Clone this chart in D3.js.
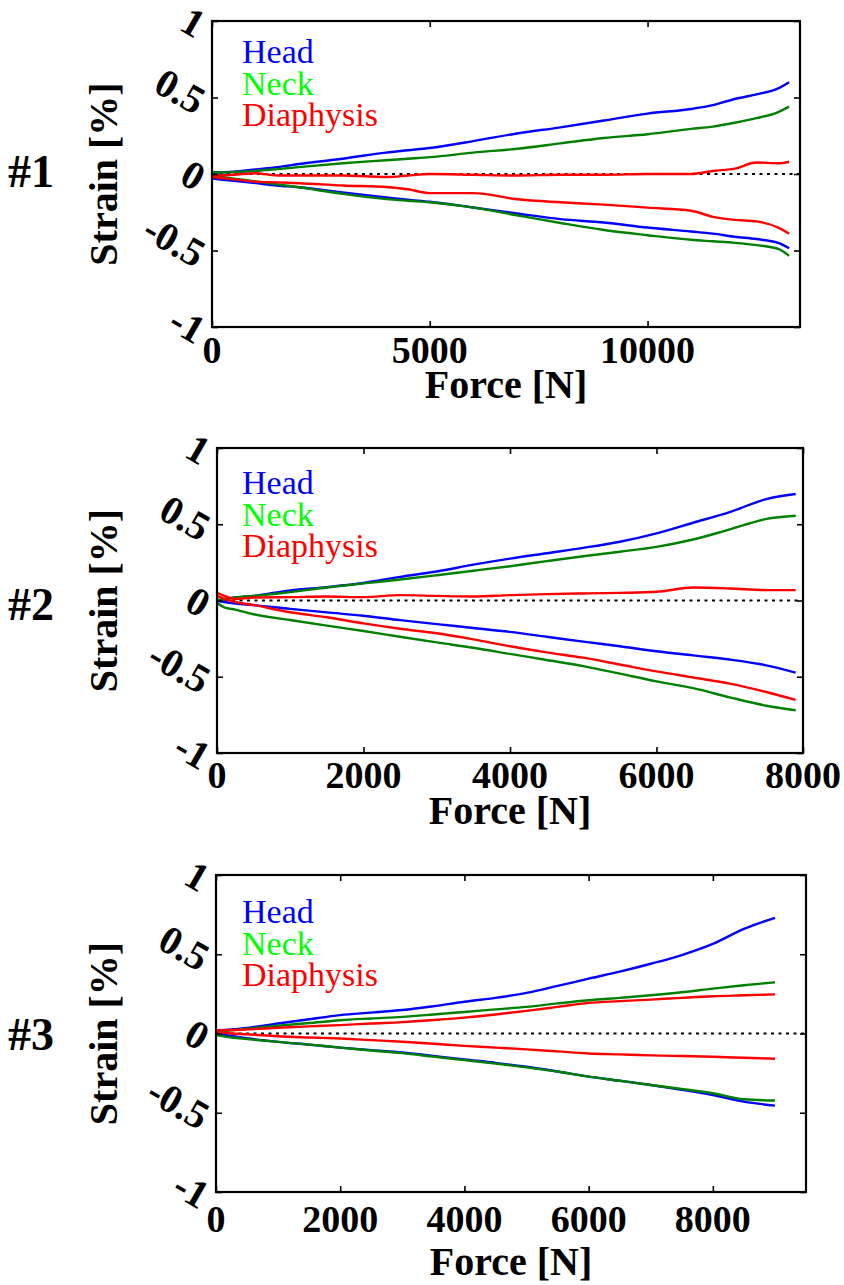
<!DOCTYPE html>
<html>
<head>
<meta charset="utf-8">
<script src="https://cdn.jsdelivr.net/npm/d3@7"></script>
<style>
  body { margin: 0; background: #fff; }
</style>
</head>
<body>
<svg id="chart" width="844" height="1285"></svg>
<script>
// ---- data (strain in %, force in N) ----

const seriesNames = ["Head", "Neck", "Diaphysis"];
const yTicks = [1, 0.5, 0, -0.5, -1];

// specimen #1
const p1Force = [0, 500, 1000, 1500, 2000, 3000, 4000, 4500, 5000, 6000, 7000, 8000, 9000, 10000, 11000, 11500, 12000, 12500, 13000, 13250];
const p1HeadUp = [0.01, 0.015, 0.03, 0.045, 0.065, 0.10, 0.14, 0.155, 0.17, 0.215, 0.265, 0.305, 0.35, 0.395, 0.425, 0.45, 0.49, 0.52, 0.56, 0.60];
const p1HeadLow = [-0.03, -0.045, -0.06, -0.075, -0.087, -0.12, -0.153, -0.168, -0.181, -0.219, -0.258, -0.295, -0.317, -0.35, -0.376, -0.39, -0.41, -0.425, -0.45, -0.485];
const p1NeckUp = [0.01, 0.012, 0.02, 0.032, 0.045, 0.07, 0.09, 0.10, 0.11, 0.14, 0.165, 0.2, 0.235, 0.26, 0.295, 0.31, 0.335, 0.365, 0.405, 0.44];
const p1NeckLow = [-0.01, -0.03, -0.048, -0.068, -0.087, -0.13, -0.164, -0.175, -0.185, -0.22, -0.27, -0.32, -0.366, -0.40, -0.43, -0.44, -0.45, -0.465, -0.49, -0.535];
const p1DiaUp = [-0.01, -0.005, 0.005, -0.01, -0.01, -0.01, -0.02, -0.01, 0.0, -0.005, -0.01, -0.005, -0.005, 0.0, 0.0, 0.02, 0.035, 0.075, 0.07, 0.08];
const p1DiaLow = [-0.02, -0.035, -0.05, -0.055, -0.06, -0.075, -0.085, -0.1, -0.125, -0.125, -0.165, -0.185, -0.2, -0.22, -0.24, -0.28, -0.30, -0.31, -0.35, -0.39];

// specimen #2
const p2Force = [0, 100, 250, 500, 1000, 1500, 2000, 2500, 3000, 3500, 4000, 4500, 5000, 5500, 6000, 6500, 7000, 7500, 7900];
const p2HeadUp = [0.0, 0.01, 0.02, 0.03, 0.066, 0.088, 0.115, 0.155, 0.19, 0.235, 0.275, 0.31, 0.345, 0.385, 0.44, 0.51, 0.58, 0.665, 0.698];
const p2HeadLow = [0.0, -0.01, -0.02, -0.03, -0.055, -0.078, -0.1, -0.129, -0.155, -0.18, -0.206, -0.238, -0.27, -0.3, -0.333, -0.36, -0.387, -0.425, -0.473];
const p2NeckUp = [0.0, 0.01, 0.02, 0.03, 0.055, 0.085, 0.112, 0.138, 0.166, 0.195, 0.225, 0.258, 0.29, 0.32, 0.352, 0.40, 0.466, 0.535, 0.556];
const p2NeckLow = [-0.015, -0.045, -0.06, -0.09, -0.128, -0.165, -0.2, -0.238, -0.275, -0.31, -0.35, -0.39, -0.43, -0.48, -0.53, -0.575, -0.635, -0.69, -0.72];
const p2DiaUp = [0.05, 0.03, 0.01, 0.02, 0.022, 0.026, 0.022, 0.035, 0.03, 0.026, 0.035, 0.042, 0.046, 0.05, 0.057, 0.085, 0.079, 0.068, 0.068];
const p2DiaLow = [0.03, 0.01, -0.01, -0.03, -0.077, -0.11, -0.15, -0.185, -0.215, -0.255, -0.3, -0.34, -0.375, -0.42, -0.465, -0.505, -0.545, -0.6, -0.652];

// specimen #3
const p3Force = [0, 250, 500, 1000, 1500, 2000, 2500, 3000, 3500, 4000, 4500, 5000, 5500, 6000, 6500, 7000, 7500, 8000, 8500, 9000];
const p3HeadUp = [0.02, 0.025, 0.035, 0.063, 0.09, 0.116, 0.132, 0.148, 0.172, 0.2, 0.225, 0.256, 0.3, 0.346, 0.39, 0.44, 0.495, 0.565, 0.66, 0.73];
const p3HeadLow = [0.0, -0.015, -0.03, -0.053, -0.07, -0.089, -0.105, -0.12, -0.142, -0.164, -0.185, -0.21, -0.24, -0.272, -0.298, -0.325, -0.355, -0.388, -0.43, -0.455];
const p3NeckUp = [0.01, 0.02, 0.03, 0.049, 0.066, 0.084, 0.095, 0.105, 0.12, 0.136, 0.152, 0.168, 0.19, 0.21, 0.225, 0.241, 0.26, 0.283, 0.304, 0.323];
const p3NeckLow = [-0.01, -0.025, -0.035, -0.053, -0.07, -0.089, -0.107, -0.124, -0.146, -0.168, -0.19, -0.214, -0.24, -0.272, -0.298, -0.325, -0.35, -0.377, -0.415, -0.423];
const p3DiaUp = [0.02, 0.022, 0.026, 0.036, 0.045, 0.053, 0.063, 0.072, 0.085, 0.1, 0.12, 0.143, 0.168, 0.193, 0.204, 0.214, 0.225, 0.235, 0.241, 0.247];
const p3DiaLow = [0.01, 0.0, -0.005, -0.017, -0.025, -0.032, -0.042, -0.052, -0.065, -0.078, -0.089, -0.1, -0.113, -0.126, -0.132, -0.138, -0.142, -0.147, -0.153, -0.159];

// ---- styling ----
const FONT = '"Liberation Serif", "Times New Roman", Times, "Nimbus Roman", "Noto Serif", "DejaVu Serif", serif';
const lineColors = { "Head": "#0000ff", "Neck": "#008000", "Diaphysis": "#ff0000" };
const legendColors = { "Head": "#0000ff", "Neck": "#00ff00", "Diaphysis": "#ff0000" };

const svg = d3.select("#chart");

const PANELS = [
    { label: "#1", labelY: 187, left: 212, top: 21, right: 800, bottom: 327,
      xMax: 13500, xTicks: [0, 5000, 10000], tickDy: 36, forceDy: 71, legendY: 63,
      force: p1Force, lines: [["Head", p1HeadUp], ["Head", p1HeadLow], ["Neck", p1NeckUp], ["Neck", p1NeckLow], ["Diaphysis", p1DiaUp], ["Diaphysis", p1DiaLow]] },
    { label: "#2", labelY: 620, left: 217, top: 448, right: 803, bottom: 753,
      xMax: 8000, xTicks: [0, 2000, 4000, 6000, 8000], tickDy: 35, forceDy: 71, legendY: 494,
      force: p2Force, lines: [["Head", p2HeadUp], ["Head", p2HeadLow], ["Neck", p2NeckUp], ["Neck", p2NeckLow], ["Diaphysis", p2DiaUp], ["Diaphysis", p2DiaLow]] },
    { label: "#3", labelY: 1050, left: 216, top: 875, right: 806, bottom: 1192,
      xMax: 9500, xTicks: [0, 2000, 4000, 6000, 8000], tickDy: 40, forceDy: 83, legendY: 923,
      force: p3Force, lines: [["Head", p3HeadUp], ["Head", p3HeadLow], ["Neck", p3NeckUp], ["Neck", p3NeckLow], ["Diaphysis", p3DiaUp], ["Diaphysis", p3DiaLow]] }
];

function plotPanel(p) {
    const x = d3.scaleLinear().domain([0, p.xMax]).range([p.left, p.right]);
    const y = d3.scaleLinear().domain([-1, 1]).range([p.bottom, p.top]);
    const g = svg.append("g");

    // zero reference line
    g.append("line")
        .attr("x1", p.left).attr("x2", p.right)
        .attr("y1", y(0)).attr("y2", y(0))
        .attr("stroke", "black")
        .attr("stroke-width", 2)
        .attr("stroke-dasharray", "3,4.5");

    const line = d3.line()
        .x((d, i) => x(p.force[i]))
        .y(d => y(d))
        .curve(d3.curveMonotoneX);

    g.selectAll("path.series")
        .data(p.lines)
        .enter()
        .append("path")
        .attr("class", "series")
        .attr("d", d => line(d[1]))
        .attr("fill", "none")
        .attr("stroke", d => lineColors[d[0]])
        .attr("stroke-width", 2.4)
        .attr("stroke-linejoin", "round");

    // inward ticks on all four sides
    const tickLen = 6;
    const xAxisB = d3.axisTop(x).tickValues(p.xTicks).tickSize(tickLen).tickFormat("");
    const xAxisT = d3.axisBottom(x).tickValues(p.xTicks).tickSize(tickLen).tickFormat("");
    const yAxisL = d3.axisRight(y).tickValues(yTicks).tickSize(tickLen).tickFormat("");
    const yAxisR = d3.axisLeft(y).tickValues(yTicks).tickSize(tickLen).tickFormat("");
    [[xAxisB, `translate(0,${p.bottom})`], [xAxisT, `translate(0,${p.top})`],
     [yAxisL, `translate(${p.left},0)`], [yAxisR, `translate(${p.right},0)`]].forEach(a => {
        const ax = g.append("g").attr("transform", a[1]).call(a[0]);
        ax.select(".domain").remove();
        ax.selectAll("line").attr("stroke", "black").attr("stroke-width", 1.6);
    });

    // frame
    g.append("rect")
        .attr("x", p.left).attr("y", p.top)
        .attr("width", p.right - p.left).attr("height", p.bottom - p.top)
        .attr("fill", "none")
        .attr("stroke", "black")
        .attr("stroke-width", 2.2);

    // x tick labels
    g.selectAll("text.xtick")
        .data(p.xTicks)
        .enter()
        .append("text")
        .attr("class", "xtick")
        .attr("x", d => x(d))
        .attr("y", p.bottom + p.tickDy)
        .attr("text-anchor", "middle")
        .style("font-family", FONT)
        .style("font-weight", "bold")
        .style("font-size", "38px")
        .text(d => d);

    // y tick labels, tilted
    g.selectAll("text.ytick")
        .data(yTicks)
        .enter()
        .append("text")
        .attr("class", "ytick")
        .attr("transform", d => `translate(${p.left - 10},${y(d) + 6}) rotate(30)`)
        .attr("dy", "0.35em")
        .attr("text-anchor", "end")
        .style("font-family", FONT)
        .style("font-weight", "bold")
        .style("font-size", "40px")
        .text(d => d);

    // axis titles
    g.append("text")
        .attr("x", (p.left + p.right) / 2)
        .attr("y", p.bottom + p.forceDy)
        .attr("text-anchor", "middle")
        .style("font-family", FONT)
        .style("font-weight", "bold")
        .style("font-size", "40px")
        .text("Force [N]");

    g.append("text")
        .attr("transform", `translate(117,${(p.top + p.bottom) / 2}) rotate(-90)`)
        .attr("text-anchor", "middle")
        .style("font-family", FONT)
        .style("font-weight", "bold")
        .style("font-size", "40px")
        .text("Strain [%]");

    g.append("text")
        .attr("x", 8)
        .attr("y", p.labelY)
        .style("font-family", FONT)
        .style("font-weight", "bold")
        .style("font-size", "46px")
        .text(p.label);

    // legend
    g.selectAll("text.legend")
        .data(seriesNames)
        .enter()
        .append("text")
        .attr("class", "legend")
        .attr("x", 242)
        .attr("y", (d, i) => p.legendY + i * 31.5)
        .attr("fill", d => legendColors[d])
        .style("font-family", FONT)
        .style("font-size", "34px")
        .text(d => d);
}

PANELS.forEach(plotPanel);
</script>
</body>
</html>
